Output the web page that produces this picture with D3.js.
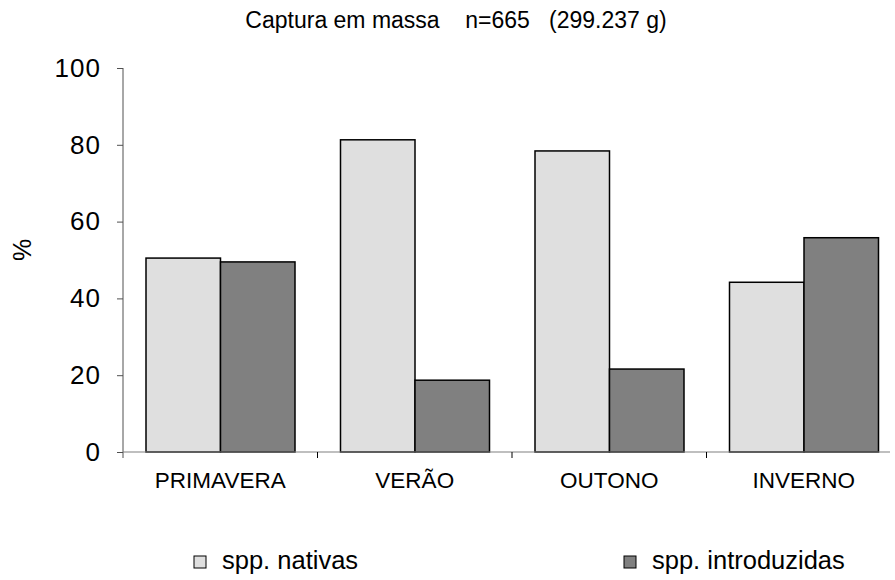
<!DOCTYPE html>
<html><head><meta charset="utf-8">
<script src="https://cdn.jsdelivr.net/npm/d3@7"></script>
<style>
body{margin:0;background:#fff;}
text{font-family:"Liberation Sans",Arial,sans-serif;fill:#000;}
</style></head>
<body>
<svg id="c" width="895" height="580"></svg>
<script>
const categories = ["PRIMAVERA","VERÃO","OUTONO","INVERNO"];
const seriesNames = ["spp. nativas","spp. introduzidas"];
const nativas = [50.5, 81.3, 78.4, 44.2];
const introduzidas = [49.5, 18.7, 21.6, 55.8];
const yTicks = [0,20,40,60,80,100];
const title = "Captura em massa    n=665   (299.237 g)";
const colors = ["#dfdfdf","#808080"];

const svg = d3.select("#c");
const x0 = 123, yTop = 68, yBot = 452;
const x = d3.scaleBand().domain(categories).range([x0, x0 + 4*194.5]).paddingInner(0).paddingOuter(0);
const xs = d3.scaleBand().domain(seriesNames).range([23, 23+149]).padding(0);
const y = d3.scaleLinear().domain([0,100]).range([yBot, yTop]);

// title
svg.append("text").attr("x", 456).attr("y", 28).attr("text-anchor","middle")
  .attr("font-size", 23).style("white-space","pre").attr("xml:space","preserve").text(title);

// y axis
const ya = svg.append("g").attr("transform",`translate(${x0},0)`)
  .call(d3.axisLeft(y).tickValues(yTicks).tickSize(6).tickPadding(16));
ya.select(".domain").remove();
ya.selectAll(".tick line").attr("stroke","#505050");
ya.selectAll(".tick text").attr("font-size",26).attr("letter-spacing","1px")
  .style("font-family","'Liberation Sans',Arial,sans-serif").attr("fill","#000");
svg.append("line").attr("x1",x0).attr("x2",x0).attr("y1",yTop).attr("y2",yBot+6).attr("stroke","#505050");

// y label
svg.append("text").attr("transform",`translate(31,250) rotate(-90)`)
  .attr("text-anchor","middle").attr("font-size",25).text("%");

// bars
const data = categories.map((c,i)=>({c, vals:[{s:seriesNames[0],v:nativas[i]},{s:seriesNames[1],v:introduzidas[i]}]}));
const g = svg.append("g");
data.forEach(d=>{
  d.vals.forEach((e,j)=>{
    g.append("rect").attr("x", x(d.c)+xs(e.s)).attr("y", y(e.v))
      .attr("width", xs.bandwidth()).attr("height", yBot - y(e.v))
      .attr("fill", colors[j]).attr("stroke","#000").attr("stroke-width",1.5);
  });
});

// x axis
svg.append("line").attr("x1",x0).attr("x2",890).attr("y1",yBot).attr("y2",yBot).attr("stroke","#808080").attr("stroke-width",1.2);
const xa = svg.append("g").attr("transform",`translate(0,${yBot})`)
  .call(d3.axisBottom(x).tickSize(0).tickPadding(20));
xa.select(".domain").remove();
xa.selectAll(".tick text").attr("font-size",22.5)
  .style("font-family","'Liberation Sans',Arial,sans-serif").attr("fill","#000");
categories.slice(1).forEach(c=>{
  svg.append("line").attr("x1",x(c)).attr("x2",x(c)).attr("y1",yBot).attr("y2",yBot+6).attr("stroke","#000");
});

// legend
const legPos = [{x:194, tx:222},{x:624, tx:652}];
seriesNames.forEach((s,i)=>{
  svg.append("rect").attr("x",legPos[i].x).attr("y",556).attr("width",12).attr("height",12)
    .attr("fill",colors[i]).attr("stroke","#000").attr("stroke-width",1);
  svg.append("text").attr("x",legPos[i].tx).attr("y",569).attr("font-size",25.5).text(s);
});
</script>
</body></html>
